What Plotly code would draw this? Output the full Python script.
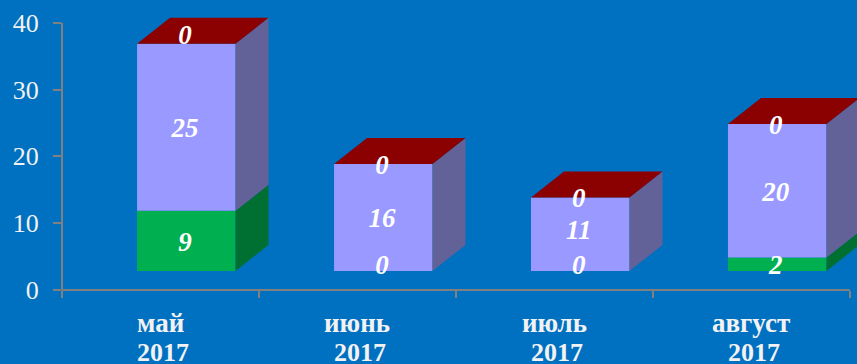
import plotly.graph_objects as go

# values
months = ["май", "июнь", "июль", "август"]
years = ["2017", "2017", "2017", "2017"]
green_values = [9, 0, 0, 2]
violet_values = [25, 16, 11, 20]
red_values = [0, 0, 0, 0]
y_ticks = [0, 10, 20, 30, 40]
x_ticks = [0, 1, 2, 3, 4]

X_RANGE = [0, 4.036]
Y_RANGE = [0, 43.41]

# fake 3D look, in axis units
FLOOR = 2.85
DEPTH_X = 0.1675
DEPTH_Y = 3.9
BAR_WIDTH = 0.5
BAR_SHIFT = 0.631
LABEL_DROP = 0.45  # text sits a little high otherwise

BG = "#0070C0"
AXIS = "#808080"
FONT = "Liberation Serif"

series = [
    dict(name="green", values=green_values, front="#00B050", side="#006F32", top="#00B050",
         nudge=[0, 1, 1, 0]),
    dict(name="violet", values=violet_values, front="#9999FF", side="#626299", top="#9999FF",
         nudge=[0, 0, 0.75, 0]),
    dict(name="red", values=red_values, front="#990000", side="#990000", top="#8B0000",
         nudge=[1.4, 0, 0, 0]),
]

fig = go.Figure()

label_x = []
label_y = []
label_text = []
bases = [FLOOR] * len(months)

for s in series:
    centers = [i + BAR_SHIFT for i in range(len(months))]
    fig.add_trace(go.Bar(
        x=centers,
        y=s["values"],
        base=bases,
        width=BAR_WIDTH,
        marker=dict(color=s["front"], line=dict(width=0)),
        showlegend=False,
    ))
    for i, value in enumerate(s["values"]):
        left = centers[i] - BAR_WIDTH / 2
        right = centers[i] + BAR_WIDTH / 2
        low = bases[i]
        high = low + value

        # side face
        fig.add_trace(go.Scatter(
            x=[right, right + DEPTH_X, right + DEPTH_X, right, right],
            y=[low, low + DEPTH_Y, high + DEPTH_Y, high, low],
            mode="lines",
            fill="toself",
            fillcolor=s["side"],
            line=dict(width=0),
            showlegend=False,
        ))
        # only the last series shows its top face
        if s is series[-1]:
            fig.add_trace(go.Scatter(
                x=[left, left + DEPTH_X, right + DEPTH_X, right, left],
                y=[high, high + DEPTH_Y, high + DEPTH_Y, high, high],
                mode="lines",
                fill="toself",
                fillcolor=s["top"],
                line=dict(width=0),
                showlegend=False,
            ))

        label_x.append(centers[i] - 0.007)
        label_y.append(low + value / 2 + s["nudge"][i] - LABEL_DROP)
        label_text.append("<b><i>%d</i></b>" % value)
    bases = [b + v for b, v in zip(bases, s["values"])]

fig.add_trace(go.Scatter(
    x=label_x,
    y=label_y,
    mode="text",
    text=label_text,
    textposition="middle center",
    textfont=dict(family=FONT, size=27, color="white"),
    cliponaxis=False,
    showlegend=False,
))

# the axis ranges run past the last ticks so the 3D faces are not cut,
# so the axis lines are shapes that stop at the last tick
fig.add_shape(type="line", xref="paper", yref="paper",
              x0=0, x1=x_ticks[-1] / X_RANGE[1], y0=0, y1=0,
              line=dict(color=AXIS, width=2), layer="above")
fig.add_shape(type="line", xref="paper", yref="paper",
              x0=0, x1=0, y0=0, y1=y_ticks[-1] / Y_RANGE[1],
              line=dict(color=AXIS, width=2), layer="above")

# month and year lines sit closer than plotly's tick label line height
for i, (month, year) in enumerate(zip(months, years)):
    fig.add_annotation(x=i + 0.5, y=0, text="<b>%s</b>" % month, showarrow=False,
                       yanchor="middle", yshift=-33,
                       font=dict(family=FONT, size=27, color="#F2F2F2"))
    fig.add_annotation(x=i + 0.5, y=0, text="<b>%s</b>" % year, showarrow=False,
                       yanchor="middle", yshift=-62, xshift=3,
                       font=dict(family=FONT, size=26, color="#F2F2F2"))

fig.update_layout(
    width=857,
    height=364,
    margin=dict(l=62, r=0, t=0, b=74),
    paper_bgcolor=BG,
    plot_bgcolor=BG,
    barmode="overlay",
    xaxis=dict(
        range=X_RANGE,
        tickmode="array",
        tickvals=x_ticks,
        ticktext=[""] * len(x_ticks),
        ticks="outside",
        ticklen=7,
        tickwidth=2,
        tickcolor=AXIS,
        showgrid=False,
        zeroline=False,
        showline=False,
        automargin=False,
    ),
    yaxis=dict(
        range=Y_RANGE,
        tickmode="array",
        tickvals=y_ticks,
        ticks="outside",
        ticklen=8,
        tickwidth=2,
        tickcolor=AXIS,
        tickfont=dict(family=FONT, size=26, color="#F2F2F2"),
        ticklabelstandoff=9,
        showgrid=False,
        zeroline=False,
        showline=False,
        automargin=False,
    ),
)

fig.write_html("out.html", config=dict(displayModeBar=False),
               post_script="document.body.style.margin='0';")
